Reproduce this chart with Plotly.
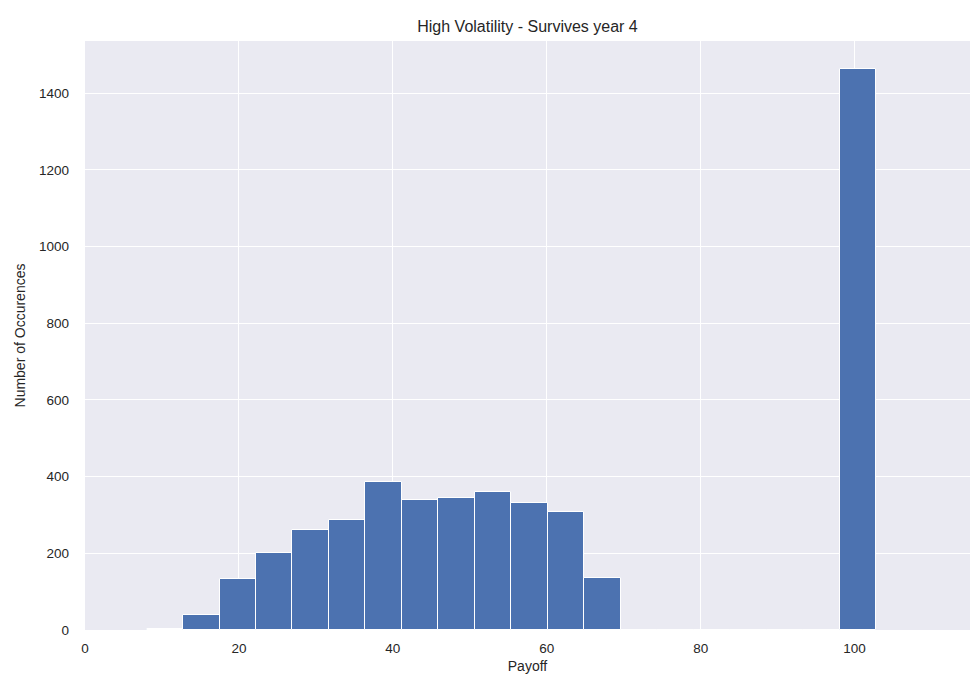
import plotly.graph_objects as go

# Histogram of payoffs: 20 equal-width bins starting at 8.0
bin_start = 8.0
bin_width = 4.74
counts = [3, 40, 132, 201, 262, 286, 386, 339, 343, 361, 332, 308, 136,
          0, 0, 0, 0, 0, 0, 1463]

x_ticks = [0, 20, 40, 60, 80, 100]
y_ticks = [0, 200, 400, 600, 800, 1000, 1200, 1400]

centers = [bin_start + bin_width * (i + 0.5) for i in range(len(counts))]

fig = go.Figure(
    go.Bar(
        x=centers,
        y=counts,
        width=[bin_width] * len(counts),
        marker=dict(color="#4C72B0", line=dict(color="white", width=1)),
        hoverinfo="x+y",
    )
)

font_family = "Liberation Sans, Arial, sans-serif"
text_color = "#262626"

fig.update_layout(
    width=971,
    height=683,
    margin=dict(l=85, r=1, t=41, b=53),
    paper_bgcolor="white",
    plot_bgcolor="#EAEAF2",
    bargap=0,
    showlegend=False,
    font=dict(family=font_family, color=text_color, size=13),
    title=dict(
        text="High Volatility - Survives year 4",
        x=0.5,
        xref="paper",
        xanchor="center",
        y=1 - 26 / 683,
        yref="container",
        yanchor="middle",
        font=dict(size=16, color=text_color),
    ),
    xaxis=dict(
        range=[0, 115],
        tickvals=x_ticks,
        ticktext=[str(v) for v in x_ticks],
        showgrid=True,
        gridcolor="white",
        gridwidth=1,
        zeroline=False,
        showline=False,
        ticks="",
        ticklabelstandoff=8,
        tickfont=dict(size=13.5, color=text_color),
        title=dict(text="Payoff", font=dict(size=14, color=text_color), standoff=6),
    ),
    yaxis=dict(
        range=[0, 1536],
        tickvals=y_ticks,
        ticktext=[str(v) for v in y_ticks],
        showgrid=True,
        gridcolor="white",
        gridwidth=1,
        zeroline=False,
        showline=False,
        ticks="",
        ticklabelstandoff=15,
        tickfont=dict(size=13.5, color=text_color),
        title=dict(text="Number of Occurences", font=dict(size=14, color=text_color), standoff=10),
    ),
)

fig.write_html("out.html")
